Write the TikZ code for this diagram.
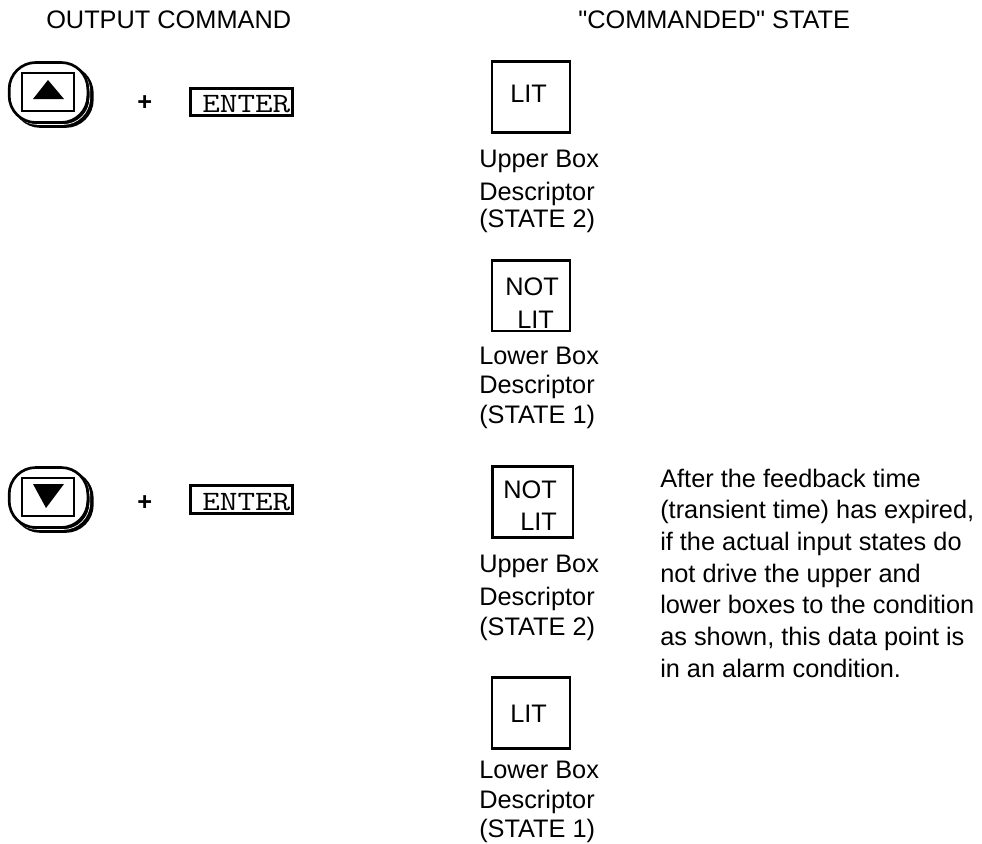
\documentclass[tikz,border=0pt]{standalone}
\usepackage{fontspec}
\setmainfont{Liberation Sans}[Ligatures=TeXOff]
\tikzset{
  txt/.style={anchor=base west,inner sep=0pt,font=\fontsize{19pt}{22pt}\selectfont},
  state/.style={txt,align=left},
  plustxt/.style={txt,font=\fontsize{19pt}{22pt}\bfseries},
  litbox/.style={draw,line width=2pt,inner sep=0pt,minimum width=58.5pt,minimum height=53pt},
  keyface/.style={draw,fill=white,line width=2pt,rounded corners=20pt,inner sep=0pt,minimum width=59pt,minimum height=45pt},
  keyshadow/.style={keyface,fill=black},
  keyline/.style={keyface,draw=white,fill=none,line width=.5pt},
  keyinner/.style={draw,line width=2pt,inner sep=0pt,minimum width=39pt,minimum height=28.5pt},
  enterbox/.style={draw,line width=2.25pt,inner sep=0pt,minimum width=77pt,minimum height=20.5pt},
  entertxt/.style={inner sep=0pt,anchor=base west,xscale=1.22,transform shape,font=\fontsize{21pt}{22pt}\ttfamily\selectfont}
}
\begin{document}
\begin{tikzpicture}[x=0.75pt,y=-0.75pt]
  \useasboundingbox (0,0) rectangle (982,843);
  % Headings
  \node[txt] (outcmd) at (46,28) {OUTPUT COMMAND};
  \node[txt] (cmdstate) at (578,28) {"COMMANDED" STATE};
  % Upper key
  \node[keyshadow] (upshadow) at (53,96.5) {};
  \node[keyline] (upline) at (50.5,94.5) {};
  \node[keyface] (upkey) at (48.5,92.5) {};
  \node[keyinner] (upinner) at (48,92) {};
  \fill (33,99) -- (64,99) -- (48,80) -- cycle;
  \node[plustxt] (upplus) at (137,110.5) {+};
  \node[enterbox] (upenterbox) at (241.5,102) {};
  \node[entertxt] (upenter) at (202,112.5) {ENTER};
  % Lower key
  \node[keyshadow] (downshadow) at (53,501.5) {};
  \node[keyline] (downline) at (50.5,499.5) {};
  \node[keyface] (downkey) at (48.5,497.5) {};
  \node[keyinner] (downinner) at (48,497) {};
  \fill (33,484) -- (64,484) -- (46,508) -- cycle;
  \node[plustxt] (downplus) at (137,510.5) {+};
  \node[enterbox] (downenterbox) at (241.5,499.5) {};
  \node[entertxt] (downenter) at (202,510) {ENTER};
  % Boxes
  \node[litbox] (boxa) at (531,97) {};
  \node[txt] (boxalit) at (510,102) {LIT};
  \node[state] (labela) at (479,227) {Upper Box\\[3pt]Descriptor\\[-2pt](STATE 2)};
  \node[litbox] (boxb) at (531,295.5) {};
  \node[txt] (boxbnot) at (505,295) {NOT};
  \node[txt] (boxblit) at (517,328) {LIT};
  \node[state] (labelb) at (479,423) {Lower Box\\Descriptor\\(STATE 1)};
  \node[litbox,minimum width=60.5pt] (boxc) at (532.5,502) {};
  \node[txt] (boxcnot) at (503,498) {NOT};
  \node[txt] (boxclit) at (520,530) {LIT};
  \node[state] (labelc) at (479,635) {Upper Box\\[3pt]Descriptor\\(STATE 2)};
  \node[litbox] (boxd) at (531,713) {};
  \node[txt] (boxdlit) at (510,722) {LIT};
  \node[state] (labeld) at (479,837.5) {Lower Box\\Descriptor\\(STATE 1)};
  % Note
  \node[state,font=\fontsize{19pt}{23.75pt}\selectfont] (note) at (660,677) {After the feedback time\\(transient time) has expired,\\if the actual input states do\\not drive the upper and\\lower boxes to the condition\\as shown, this data point is\\in an alarm condition.};
\end{tikzpicture}
\end{document}
